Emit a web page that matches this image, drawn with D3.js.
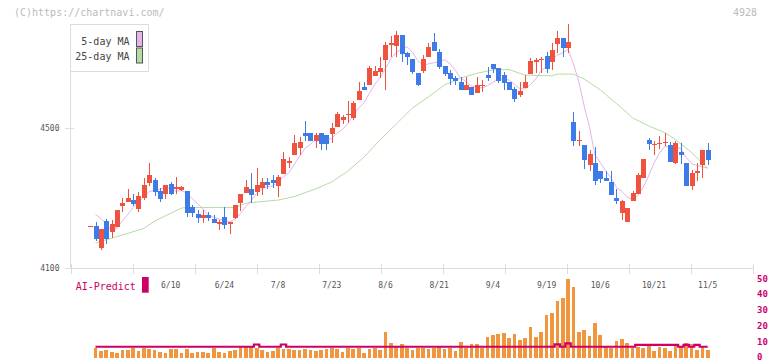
<!DOCTYPE html>
<html><head><meta charset="utf-8">
<script src="https://cdn.jsdelivr.net/npm/d3@7/dist/d3.min.js"></script>
<style>body{margin:0;background:#fff}svg{display:block}text{font-family:"DejaVu Sans Mono",monospace}</style>
</head><body><svg id="c" width="772" height="361"></svg>
<script>
// day 0 = previous session (shown only as a dash), days 1..115 = 5/21 .. 11/5
const openP = [4220,
4220,4158,4234,4204,4218,4278,4289,4293,4269,4299,
4343,4351,4321,4312,4341,4325,4324,4320,4275,4254,
4243,4251,4240,4225,4246,4227,4244,4285,4313,4325,
4318,4329,4345,4351,4335,4369,4399,4423,4443,4486,
4486,4464,4486,4479,4483,4504,4524,4536,4529,4581,
4617,4624,4649,4661,4695,4739,4735,4766,4713,4697,
4658,4664,4704,4746,4717,4677,4658,4643,4631,4609,
4618,4601,4620,4651,4684,4671,4651,4632,4611,4594,
4615,4654,4691,4696,4706,4689,4741,4757,4729,4517,
4464,4451,4394,4401,4377,4357,4346,4300,4257,4232,
4291,4311,4357,4466,4452,4455,4458,4451,4401,4431,
4400,4334,4371,4395,4437];
const highP = [4220,
4231,4211,4239,4237,4266,4299,4327,4312,4318,4357,
4400,4358,4329,4337,4347,4360,4334,4320,4280,4266,
4266,4261,4251,4236,4274,4232,4280,4311,4351,4371,
4385,4357,4357,4365,4365,4432,4418,4479,4475,4520,
4486,4485,4486,4479,4515,4547,4536,4578,4578,4632,
4632,4677,4677,4702,4747,4764,4777,4766,4718,4697,
4658,4709,4742,4771,4725,4677,4666,4649,4647,4647,
4618,4647,4637,4675,4684,4671,4661,4632,4618,4631,
4651,4701,4701,4702,4718,4742,4777,4757,4797,4546,
4491,4451,4437,4446,4377,4377,4377,4326,4294,4271,
4320,4371,4411,4471,4463,4477,4486,4460,4463,4457,
4400,4380,4400,4437,4457];
const lowP = [4220,
4177,4152,4169,4185,4218,4259,4289,4276,4259,4293,
4335,4307,4289,4298,4309,4312,4320,4247,4247,4229,
4229,4234,4229,4209,4211,4198,4240,4263,4313,4285,
4307,4309,4325,4329,4304,4369,4386,4423,4424,4464,
4464,4443,4437,4437,4458,4504,4511,4513,4523,4581,
4609,4624,4649,4642,4609,4704,4704,4689,4680,4654,
4620,4656,4704,4720,4669,4649,4623,4623,4609,4609,
4594,4601,4604,4634,4656,4628,4609,4609,4574,4589,
4613,4654,4656,4656,4656,4666,4715,4704,4715,4449,
4449,4383,4377,4337,4344,4349,4309,4284,4237,4232,
4291,4311,4357,4437,4423,4440,4449,4404,4397,4397,
4334,4323,4349,4357,4395];
const closeP = [4220,
4184,4211,4184,4226,4266,4286,4300,4284,4306,4337,
4367,4317,4297,4337,4312,4331,4331,4258,4258,4244,
4251,4244,4229,4232,4224,4232,4280,4311,4331,4309,
4337,4346,4338,4344,4361,4411,4406,4456,4460,4477,
4464,4479,4455,4455,4500,4540,4531,4540,4572,4606,
4609,4671,4664,4671,4737,4742,4766,4711,4704,4661,
4623,4697,4731,4720,4675,4654,4640,4635,4609,4623,
4594,4623,4623,4644,4669,4635,4629,4609,4583,4605,
4631,4691,4693,4698,4669,4723,4757,4729,4746,4464,
4466,4409,4426,4349,4354,4349,4309,4292,4291,4271,
4314,4366,4411,4454,4454,4457,4460,4404,4457,4424,
4334,4372,4377,4437,4409];
const volume = [null,
6.2,4.3,4.9,3.5,2.8,4.7,4.7,6.2,4.1,6.2,
5.3,4.7,3.5,2.8,5.5,5.5,2.8,5.5,2.8,3.5,
3.5,2.8,6.2,3.5,2.8,4.1,4.9,6.4,6.4,6.4,
6.2,4.7,3.5,4.1,6.2,5.5,5.5,4.7,4.7,5.5,
4.9,4.1,4.9,5.5,6.2,5.5,3.5,6.2,5.5,6.2,
2.8,5.5,6.2,4.9,16.2,9.3,7.4,8.5,6.2,4.9,
6.2,6.2,5.3,6.2,6.8,5.3,6.2,4.3,9.7,6.2,
8.5,8.5,6.2,12.9,14.2,14.8,15.6,12.5,14.8,11.2,
12.5,19.2,12.9,16.2,26.7,28.2,35.7,37.4,49.4,44.3,
16.2,17.3,13.5,21.9,14.2,6.8,6.2,10.6,11.6,9.1,
6.2,6.8,6.2,7.9,4.3,6.8,6.2,4.3,7.7,6.8,
8.9,8.5,4.9,7.2,4.9];
const aiPredict = [null,
6.8,6.8,6.8,6.8,6.8,6.8,6.8,6.8,6.8,6.8,
6.8,6.8,6.8,6.8,6.8,6.8,6.8,6.8,6.8,6.8,
6.8,6.8,6.8,6.8,6.8,6.8,6.8,6.8,6.8,6.8,
8.2,6.8,6.8,6.8,6.8,8.2,6.8,6.8,6.8,6.8,
6.8,6.8,6.8,6.8,6.8,6.8,6.8,6.8,6.8,6.8,
6.8,6.8,6.8,6.8,6.8,6.8,6.8,6.8,6.8,6.8,
6.8,6.8,6.8,6.8,6.8,6.8,6.8,6.8,6.8,6.8,
6.8,6.8,6.8,6.8,6.8,6.8,6.8,6.8,6.8,6.8,
6.8,6.8,6.8,6.8,6.8,6.8,8.3,6.8,8.9,6.8,
6.8,6.8,6.8,6.8,6.8,6.8,6.8,6.8,6.8,6.8,
6.8,8.0,8.0,8.0,8.0,8.0,8.0,8.0,8.0,6.8,
8.0,6.8,8.0,6.8,6.8];
const ma5Head = [4253, 4242, 4226];           // first 3 points
const ma25Day = [1,4,7,10,12,14,17,18,27,29,32,35,38,42,45,48,51,54,57,60,63,66,69,72,75,78,81,86,87,90,92,95,99,101,104,107,109,112,115];
const ma25Val = [4172,4185,4199,4213,4234,4249,4271,4273,4273,4285,4290,4294,4304,4326,4346,4377,4417,4466,4511,4557,4589,4623,4643,4656,4666,4667,4651,4649,4654,4654,4640,4609,4557,4529,4506,4487,4467,4430,4385];
const tickDays = [15,25,35,45,55,65,75,85,95,105,115];
const tickLabels = ["6/10","6/24","7/8","7/23","8/6","8/21","9/4","9/19","10/6","10/21","11/5"];
const priceTicks = [4500,4100];
const volTicks = [0,10,20,30,40,50];
const frameTicks = d3.range(12);

const C = {up:"#ef5340", down:"#3d7be8", vol:"#f0963e", ma5:"#e8b2ea", ma25:"#b5dca5", ai:"#cc0066", axis:"#dddddd", txt:"#555555"};

const svg = d3.select("#c");
const x = d3.scaleLinear().domain([1,115]).range([95.5,707.7]);
const y = d3.scaleLinear().domain([4100,4500]).range([268,128]);
const yv = d3.scaleLinear().domain([0,50]).range([357.5,278.3]);
const frame = d3.scaleLinear().domain([0,11]).range([70.5,752.5]);

// header texts
svg.append("text").attr("x",14).attr("y",15.5).attr("font-size",10).attr("fill","#bbbbbb").text("(C)https://chartnavi.com/");
svg.append("text").attr("x",757).attr("y",16).attr("font-size",10).attr("fill","#bbbbbb").attr("text-anchor","end").text("4928");

// frame: y axis line, bottom axis, ticks
const g = svg.append("g").attr("shape-rendering","crispEdges");
g.append("line").attr("x1",70.5).attr("x2",70.5).attr("y1",24).attr("y2",268.5).attr("stroke",C.axis);
g.append("line").attr("x1",70.5).attr("x2",752.5).attr("y1",268.5).attr("y2",268.5).attr("stroke",C.axis).attr("stroke-width",1.5);
g.selectAll(".ft").data(frameTicks).join("line")
  .attr("x1",d=>Math.round(frame(d))+0.5).attr("x2",d=>Math.round(frame(d))+0.5)
  .attr("y1",264).attr("y2",273.5).attr("stroke",C.axis);
g.selectAll(".pt").data(priceTicks).join("line")
  .attr("x1",65).attr("x2",74).attr("y1",d=>Math.round(y(d))+0.5).attr("y2",d=>Math.round(y(d))+0.5).attr("stroke",C.axis);
svg.selectAll(".pl").data(priceTicks).join("text")
  .attr("x",59.5).attr("y",d=>y(d)+3).attr("text-anchor","end").attr("font-size",8).attr("fill",C.txt).text(d=>d);
svg.selectAll(".xl").data(tickDays).join("text")
  .attr("x",d=>x(d)).attr("y",288).attr("text-anchor","middle").attr("font-size",8).attr("fill",C.txt)
  .text((d,i)=>tickLabels[i]);
svg.selectAll(".vl").data(volTicks).join("text")
  .attr("x",757).attr("y",d=>Math.min(yv(d)+3.3,359.5)).attr("font-size",9).attr("font-weight","bold").attr("fill",C.ai).text(d=>d);

// moving averages
const days = d3.range(openP.length);
const ma5 = days.slice(1).map(k => k-1 < ma5Head.length ? {k, v: ma5Head[k-1]} : {k, v: d3.mean(closeP.slice(k-4,k+1))});
const lineP = d3.line().x(d=>x(d.k)).y(d=>y(d.v));
svg.append("path").datum(ma25Day.map((k,i)=>({k, v: ma25Val[i]}))).attr("d",lineP).attr("fill","none").attr("stroke",C.ma25).attr("stroke-width",1);
svg.append("path").datum(ma5).attr("d",lineP).attr("fill","none").attr("stroke",C.ma5).attr("stroke-width",1);

// candles
const cg = svg.append("g").attr("shape-rendering","crispEdges");
days.forEach(k=>{
  const o=openP[k], c=closeP[k], h=highP[k], l=lowP[k];
  const col = c>=o ? C.up : C.down;
  const cx = Math.round(x(k));
  if (h>l) cg.append("rect").attr("x",cx).attr("width",1).attr("y",y(h)).attr("height",y(l)-y(h)).attr("fill",col);
  const top = y(Math.max(o,c)), bot = y(Math.min(o,c));
  cg.append("rect").attr("x",cx-2).attr("width",5).attr("y",top).attr("height",Math.max(1.2,bot-top)).attr("fill",col);
});

// volume
const vg = svg.append("g").attr("shape-rendering","crispEdges");
vg.selectAll("rect").data(days.filter(k=>volume[k]!=null)).join("rect")
  .attr("x",k=>x(k)-1.8).attr("width",3.7).attr("y",k=>yv(volume[k])).attr("height",k=>yv(0)-yv(volume[k])).attr("fill",C.vol);

// AI predict line
svg.append("path").datum(days.filter(k=>aiPredict[k]!=null))
  .attr("d",d3.line().x(k=>x(k)).y(k=>yv(aiPredict[k])).curve(d3.curveStep))
  .attr("fill","none").attr("stroke",C.ai).attr("stroke-width",2.2);
svg.append("text").attr("x",75.7).attr("y",290).attr("font-size",10).attr("fill",C.ai).text("AI-Predict");
svg.append("rect").attr("x",142).attr("y",277).attr("width",6.7).attr("height",15.7).attr("fill",C.ai);

// legend
const lg = svg.append("g");
lg.append("rect").attr("x",70.5).attr("y",24.5).attr("width",78).attr("height",47).attr("fill","#fff").attr("stroke",C.axis);
const legItems = [["5-day MA",C.ma5],["25-day MA",C.ma25]];
legItems.forEach((it,i)=>{
  lg.append("text").attr("x",129.5).attr("y",45+15*i).attr("text-anchor","end").attr("font-size",10).attr("fill","#444").text(it[0]);
  lg.append("rect").attr("x",136.5).attr("y",31.5+16.5*i).attr("width",6).attr("height",15).attr("fill",it[1]).attr("stroke","#555");
});
</script></body></html>
